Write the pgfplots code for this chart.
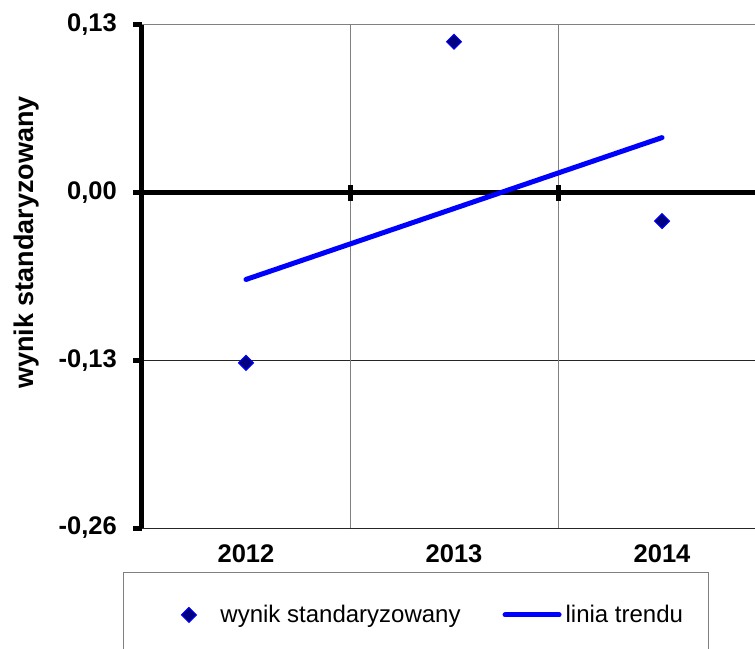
\documentclass[border=0pt]{standalone}
\usepackage{pgfplots}
\pgfplotsset{compat=1.18}
\usepackage{fontspec}
\setmainfont{Liberation Sans}
\definecolor{navyfill}{RGB}{0,0,128}
\definecolor{trendblue}{RGB}{0,0,255}
\definecolor{gridgray}{RGB}{128,128,128}
\pgfplotsset{
  legA/.style={legend image code/.code={\path (-65pt,0pt) (31pt,0pt); \draw[##1] plot coordinates {(0pt,0pt)};}},
  legB/.style={legend image code/.code={\path (-42pt,0pt) (58pt,0pt); \draw[##1] (0pt,0pt) -- (54pt,0pt);}},
}
\begin{document}
\begin{tikzpicture}
\begin{axis}[
  at={(142pt,120pt)}, anchor=south west,
  scale only axis, width=613pt, height=503pt,
  xmin=-0.5, xmax=2.447, ymin=-0.26, ymax=0.13,
  axis line style={draw=none},
  clip=false,
  xtick={0,1,2}, xticklabels={2012,2013,2014},
  ytick={-0.26,-0.13,0,0.13},
  yticklabels={{-0,26},{-0,13},{0,00},{0,13}},
  major tick length=0pt,
  tick label style={font=\fontsize{25.5}{30}\selectfont\bfseries},
  yticklabel style={anchor=east, inner xsep=0pt, xshift=-25pt},
  xticklabel style={anchor=north, inner ysep=0pt, yshift=-16pt},
  ylabel={wynik standaryzowany},
  ylabel style={font=\fontsize{27}{32}\selectfont\bfseries, at={(axis description cs:-0.189,0.5676)}, anchor=center},
  legend columns=2,
  legend cell align=left,
  legend style={at={(axis description cs:-0.031,-0.0875)}, anchor=north west,
    draw=gridgray, line width=1pt, inner xsep=0pt, inner ysep=33pt,
    font=\fontsize{24}{28}\selectfont,
    nodes={inner xsep=0pt, inner ysep=0pt}},
]
% grid lines
\draw[gridgray, line width=1pt] (axis cs:-0.5,0.13) -- (axis cs:2.447,0.13);
\draw[black!85, line width=1pt] (axis cs:-0.5,-0.13) -- (axis cs:2.447,-0.13);
\draw[black!85, line width=1pt] (axis cs:-0.5,-0.26) -- (axis cs:2.447,-0.26);
\draw[gridgray, line width=1pt] (axis cs:0.5,-0.26) -- (axis cs:0.5,0.13);
\draw[gridgray, line width=1pt] (axis cs:1.5,-0.26) -- (axis cs:1.5,0.13);
% axes
\draw[black, line width=5pt] (axis cs:-0.5,0) -- (axis cs:2.447,0);
\draw[black, line width=5pt] (axis cs:-0.5,-0.26) -- (axis cs:-0.5,0.13);
\draw[black, line width=5pt] (axis cs:-0.5,-0.26) -- ++(-9pt,0pt);
\draw[black, line width=5pt] (axis cs:-0.5,-0.13) -- ++(-9pt,0pt);
\draw[black, line width=5pt] (axis cs:-0.5,0) -- ++(-9pt,0pt);
\draw[black, line width=5pt] (axis cs:-0.5,0.13) -- ++(-9pt,0pt);
\draw[black, line width=5pt] (axis cs:0.5,0) ++(0pt,-8pt) -- ++(0pt,16pt);
\draw[black, line width=5pt] (axis cs:1.5,0) ++(0pt,-8pt) -- ++(0pt,16pt);
% data
\addplot[only marks, mark=square*, mark size=5.3pt,
  mark options={rotate=45, fill=navyfill, draw=trendblue, line width=1pt}, legA]
  coordinates {(0,-0.132) (1,0.117) (2,-0.022)};
\addlegendentry{wynik standaryzowany}
\addplot[trendblue, line width=5pt, line cap=round, no marks, legB]
  coordinates {(0,-0.0673) (2,0.0427)};
\addlegendentry{linia trendu\hspace*{25pt}}
\end{axis}
\pgfresetboundingbox
\path[use as bounding box] (0pt,0pt) rectangle (755pt,648pt);
\end{tikzpicture}
\end{document}
